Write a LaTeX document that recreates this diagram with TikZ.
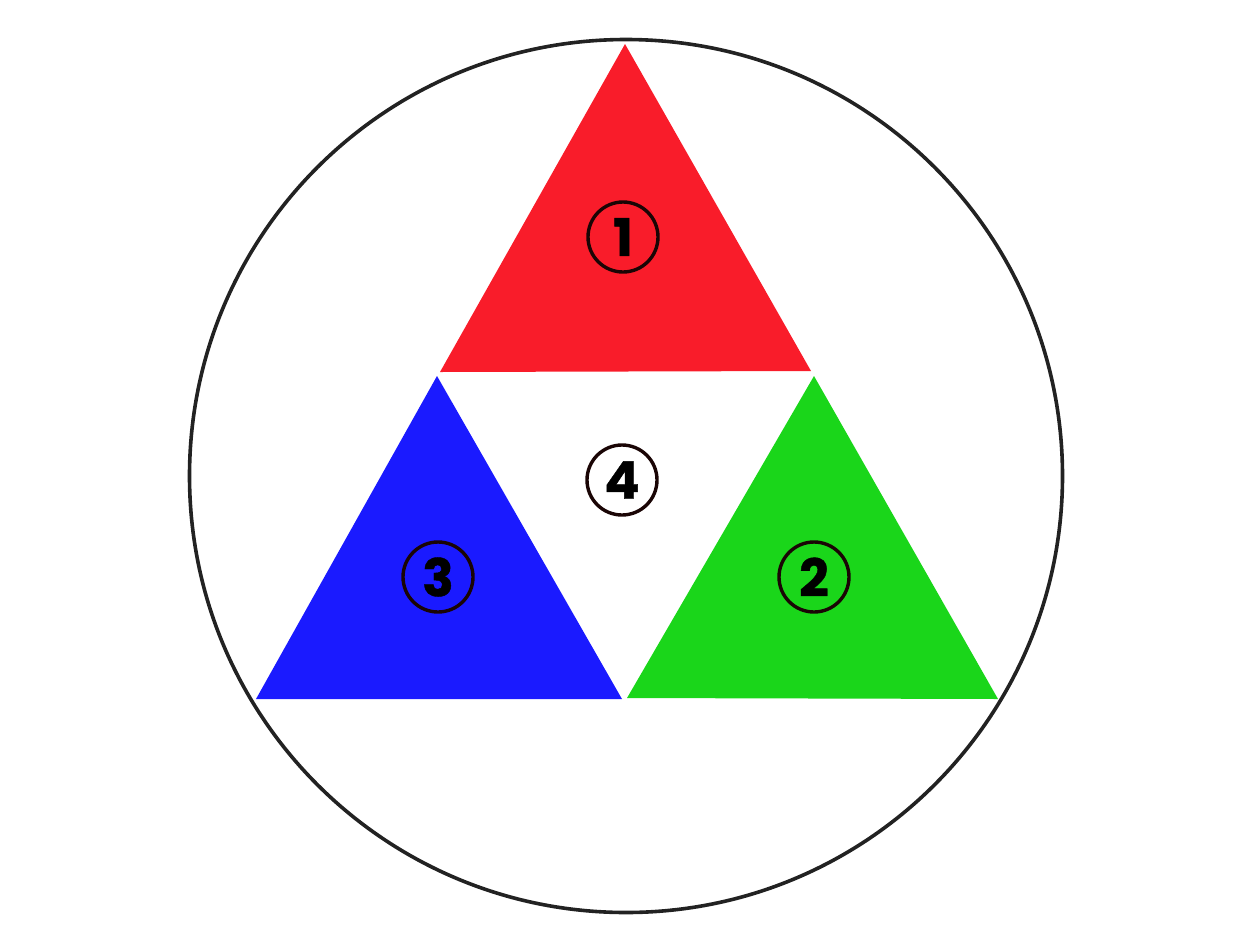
\documentclass[tikz,border=0pt]{standalone}
\usepackage{fontspec}
\setmainfont{Poppins}
\newfontfamily\numfont[BoldFeatures={FakeBold=0.8}]{Poppins}
\definecolor{tred}{HTML}{F91C2A}
\definecolor{tblue}{HTML}{1A1AFF}
\definecolor{tgreen}{HTML}{1AD61A}
\definecolor{ring}{HTML}{222222}
\definecolor{lab}{HTML}{1A0505}
\begin{document}
\begin{tikzpicture}[x=1pt,y=-1pt,
  numlabel/.style={circle,draw=lab,line width=3.4pt,minimum size=70pt,inner sep=0pt,
    font=\numfont\fontsize{52}{52}\selectfont\bfseries,text=black}]
\useasboundingbox (0,0) rectangle (1250,943);
\draw[ring,line width=3.6pt] (626,476) circle (436.5);
\fill[tred] (625,44) -- (811,371) -- (440,372) -- cycle;
\fill[tblue] (437,376) -- (622,699) -- (256,699) -- cycle;
\fill[tgreen] (814,376) -- (998,699) -- (627,698) -- cycle;
\node[numlabel] (n1) at (623,237) {1};
\node[numlabel] (n4) at (622,480) {4};
\node[numlabel] (n3) at (438,577) {3};
\node[numlabel] (n2) at (814,577) {2};
\end{tikzpicture}
\end{document}
